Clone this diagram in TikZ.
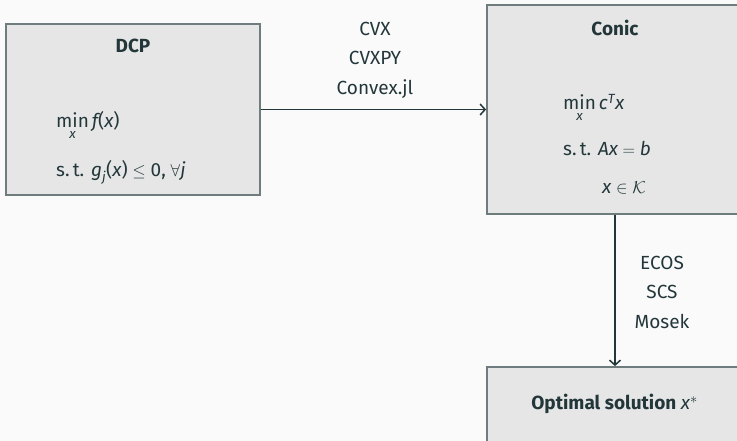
\documentclass[tikz,border=0pt]{standalone}
\usepackage{amsmath}
\usepackage{fontspec}
\setmainfont{Fira Sans}
\usetikzlibrary{arrows.meta}
\definecolor{mteal}{HTML}{23373B}
\definecolor{mbg}{HTML}{FAFAFA}
\definecolor{mfill}{HTML}{E6E6E6}
\definecolor{mborder}{HTML}{6F7C7E}
\newcommand\vv[1]{\text{\itshape #1}}
\newcommand\tu[1]{\text{#1}}
\tikzset{
  box/.style={draw=mborder, fill=mfill, line width=1.8pt, inner sep=0pt},
  conn/.style={draw=mteal, line width=1.8pt, -{Straight Barb[length=5pt,width=11pt,line width=1.5pt]}},
  lbl/.style={text=mteal, inner sep=0pt, align=center, font=\fontsize{19}{29.5}\selectfont},
  mtxt/.style={text=mteal, inner sep=0pt, anchor=base west, font=\fontsize{19}{23}\selectfont},
  ttl/.style={text=mteal, inner sep=0pt, font=\fontsize{19}{23}\selectfont\bfseries},
}
\begin{document}
\begin{tikzpicture}[x=1pt,y=-1pt]
\fill[mbg] (0,0) rectangle (737,441);
\useasboundingbox (0,0) rectangle (737,441);
\clip (0,0) rectangle (737,441);
% boxes
\node[box, minimum width=254pt, minimum height=171pt] (dcp) at (133,109.5) {};
\node[box, minimum width=256pt, minimum height=209pt] (conic) at (615,109.5) {};
\node[box, minimum width=256pt, minimum height=76pt] (opt) at (615,405) {};
% titles
\node[ttl] (dcpt) at (133,46) {DCP};
\node[ttl] (conict) at (615,28) {Conic};
\node[ttl] (optt) at (614.5,404) {Optimal solution \mdseries$\vv{x}^{*}$};
% DCP content
\node[mtxt] (dcp1) at (56,128) {$\min\limits_{\vv{x}} \vv{f}\tu{(}\vv{x}\tu{)}$};
\node[mtxt] (dcp2) at (56,177) {s.\,t. $\vv{g}_{\vv{j}}\tu{(}\vv{x}\tu{)} \leq \tu{0}\tu{,}\;\forall \vv{j}$};
% Conic content
\node[mtxt] (con1) at (563,110) {$\min\limits_{\vv{x}} \vv{c}^{\vv{T}}\vv{x}$};
\node[mtxt] (con2) at (563,156) {s.\,t. $\vv{Ax} = \vv{b}$};
\node[mtxt] (con3) at (602,194) {$\vv{x} \in \mathcal{K}$};
% connectors
\draw[conn] (dcp.east) -- (conic.west |- dcp.east);
\draw[conn] (conic.south) -- (opt.north);
% labels
\node[lbl] (tools) at (375,60) {CVX\\CVXPY\\Convex.jl};
\node[lbl] (solvers) at (662,292) {ECOS\\SCS\\Mosek};
\end{tikzpicture}
\end{document}
